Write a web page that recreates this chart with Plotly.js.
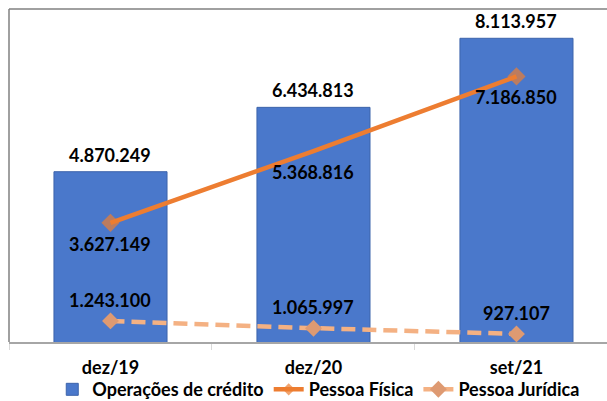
<!DOCTYPE html>
<html>
<head>
<meta charset="utf-8">
<script src="https://cdn.plot.ly/plotly-3.0.1.min.js"></script>
<style>html,body{margin:0;padding:0;background:#fff;}#chart{width:607px;height:401px;}</style>
</head>
<body>
<div id="chart"></div>
<script>
const categories = ["dez/19", "dez/20", "set/21"];
const operacoesCredito = [4870249, 6434813, 8113957];
const pessoaFisica = [3627149, 5368816, 7186850];
const pessoaJuridica = [1243100, 1065997, 927107];
const seriesNames = ["Operações de crédito", "Pessoa Física", "Pessoa Jurídica"];

function fmt(v) { return v.toString().replace(/\B(?=(\d{3})+(?!\d))/g, "."); }

const FONT = "Lato, 'Open Sans', sans-serif";

const traces = [
  {
    type: "bar", name: seriesNames[0], x: categories, y: operacoesCredito,
    width: 0.557,
    marker: { color: "#4a78cb", line: { color: "#3d64ab", width: 1 } },
    hoverinfo: "skip"
  },
  {
    type: "scatter", mode: "lines+markers", name: seriesNames[1], x: categories, y: pessoaFisica,
    line: { color: "#ED7D31", width: 4.5 },
    marker: { symbol: "diamond", size: [14, 0, 14], color: "#ED7D31", line: { width: 0 } },
    hoverinfo: "skip"
  },
  {
    type: "scatter", mode: "lines+markers", name: seriesNames[2], x: categories, y: pessoaJuridica,
    line: { color: "#F4B183", width: 4.5, dash: "14px,7px" },
    marker: { symbol: "diamond", size: 13, color: "#DE9A72", line: { width: 0 } },
    hoverinfo: "skip"
  }
];

const annotations = [];
const lab = (x, y, shift) => ({
  x: x, y: y, xref: "x", yref: "y", text: "<b>" + fmt(y) + "</b>", showarrow: false,
  yanchor: "middle", yshift: shift, font: { family: FONT, size: 18, color: "#000" }
});
categories.forEach((c, i) => {
  annotations.push(lab(c, operacoesCredito[i], 17));
  annotations.push(lab(c, pessoaFisica[i], -21));
  annotations.push(lab(c, pessoaJuridica[i], 21));
});

const layout = {
  width: 607, height: 401,
  margin: { l: 9, r: 0, t: 9, b: 59, autoexpand: false },
  paper_bgcolor: "#fff", plot_bgcolor: "#fff",
  showlegend: true,
  barmode: "overlay",
  xaxis: {
    type: "category", range: [-0.5, 2.446], automargin: false,
    showline: true, linecolor: "#a6a6a6", linewidth: 2,
    ticks: "outside", tickson: "boundaries", ticklen: 6, tickcolor: "#d9d9d9", tickwidth: 1,
    tickfont: { family: FONT, size: 18, color: "#000", weight: "bold" },
    ticklabelstandoff: 8,
    showgrid: false, zeroline: false, fixedrange: true
  },
  yaxis: {
    range: [730000, 8826000], visible: false, showgrid: false, zeroline: false, fixedrange: true
  },
  legend: {
    orientation: "h", x: 0.518, xanchor: "center", y: -0.143, yanchor: "middle",
    font: { family: FONT, size: 18, color: "#000", weight: "bold" },
    bgcolor: "rgba(0,0,0,0)", itemwidth: 30, tracegroupgap: 0
  },
  shapes: [
    { type: "line", xref: "paper", yref: "paper", x0: 0, x1: 1, y0: 1, y1: 1, line: { color: "#808080", width: 1.5 } },
    { type: "line", xref: "paper", yref: "paper", x0: 0, x1: 0, y0: 0, y1: 1, line: { color: "#808080", width: 1.5 } }
  ],
  annotations: annotations
};

Plotly.newPlot("chart", traces, layout, { staticPlot: true, displayModeBar: false });
</script>
</body>
</html>
